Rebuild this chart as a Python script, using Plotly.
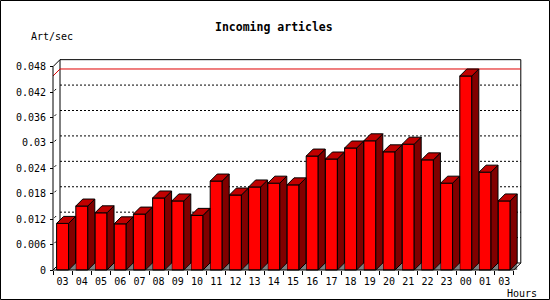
import plotly.graph_objects as go

# ---------------- data ----------------
hours = ["03", "04", "05", "06", "07", "08", "09", "10", "11", "12", "13", "14",
         "15", "16", "17", "18", "19", "20", "21", "22", "23", "00", "01", "03"]
art_per_sec = [0.0110, 0.0151, 0.0135, 0.0109, 0.0132, 0.0170, 0.0163, 0.0129,
               0.0210, 0.0177, 0.0196, 0.0205, 0.0201, 0.0269, 0.0262, 0.0288,
               0.0305, 0.0279, 0.0297, 0.0260, 0.0205, 0.0458, 0.0231, 0.0163]
y_tick_values = [0, 0.006, 0.012, 0.018, 0.024, 0.030, 0.036, 0.042, 0.048]
y_tick_labels = ["0", "0.006", "0.012", "0.018", "0.024", "0.03", "0.036", "0.042", "0.048"]
chart_title = "Incoming articles"
y_title = "Art/sec"
x_title = "Hours"

# ---------------- geometry ----------------
W, H = 550, 300
L, R, T, B = 51, 28, 58, 29
pw, ph = W - L - R, H - T - B
slot_px = 19.2          # pixels per category slot
first_center_px = 62.6  # pixel x of first slot centre
unit_px = 4236.0        # pixels per 1.0 of value
zero_py = 270           # pixel y of value 0 on the front plane
depth_px = 7
bar_px = 12

x_range = [(L - first_center_px) / slot_px, (W - R - first_center_px) / slot_px]
y_range = [-(H - B - zero_py) / unit_px, (zero_py - T) / unit_px]
dx = depth_px / slot_px
dy = depth_px / unit_px
bw = bar_px / slot_px
n = len(hours)
idx = list(range(n))
x_lo, x_hi = -0.5, n - 0.5
y_top = y_tick_values[-1]


def px_x(px):
    return (px - L) / pw


def px_y(py):
    return (H - B - py) / ph


FONT = "DejaVu Sans Mono"
RED, SIDE, TOP, GRAY = "#ff0000", "#800000", "#c00000", "#808080"

# ---------------- 3D faces ----------------
tri_x, tri_y, side_x, side_y, top_x, top_y = [], [], [], [], [], []
for i, v in zip(idx, art_per_sec):
    xl, xr = i - bw / 2, i + bw / 2
    tri_x += [xr, xr + dx, xr + dx, xr, None]
    tri_y += [0, dy, 0, 0, None]
    side_x += [xr, xr + dx, xr + dx, xr, xr, None]
    side_y += [0, dy, v + dy, v, 0, None]
    top_x += [xl, xl + dx, xr + dx, xr, xl, None]
    top_y += [v, v + dy, v + dy, v, v, None]

fig = go.Figure()
fig.add_trace(go.Bar(x=idx, y=art_per_sec, width=bw,
                     marker=dict(color=RED, line=dict(color="black", width=1)),
                     hoverinfo="skip"))
fig.add_trace(go.Scatter(x=tri_x, y=tri_y, mode="lines", fill="toself",
                         fillcolor=GRAY, line=dict(width=0, color=GRAY), hoverinfo="skip"))
fig.add_trace(go.Scatter(x=side_x, y=side_y, mode="lines", fill="toself",
                         fillcolor=SIDE, line=dict(width=1, color="black"), hoverinfo="skip"))
fig.add_trace(go.Scatter(x=top_x, y=top_y, mode="lines", fill="toself",
                         fillcolor=TOP, line=dict(width=1, color="black"), hoverinfo="skip"))

# ---------------- frame ----------------
shapes = []


def seg(x0, y0, x1, y1, color="black", dash="solid", layer="below"):
    shapes.append(dict(type="line", xref="x", yref="y", x0=x0, y0=y0, x1=x1, y1=y1,
                       line=dict(color=color, width=1, dash=dash), layer=layer))


# dotted grid on back plane
for v in y_tick_values[1:-1]:
    seg(x_lo + dx, v + dy, x_hi + dx, v + dy, dash="2px,2px")
    seg(x_lo + dx * 0.2, v + dy * 0.2, x_lo + dx * 0.45, v + dy * 0.45)
# back plane border
seg(x_lo + dx, dy, x_lo + dx, y_top + dy)
seg(x_lo + dx, y_top + dy, x_hi + dx, y_top + dy)
seg(x_hi + dx, dy, x_hi + dx, y_top + dy)
seg(x_lo + dx, dy, x_hi + dx, dy)
# max line (red)
vmax = max(art_per_sec)
seg(x_lo + dx, vmax + dy, x_hi + dx, vmax + dy, color="#e00000")
seg(x_lo, vmax, x_lo + dx, vmax + dy, color="#e00000")
# front axes and connectors
seg(x_lo, y_top, x_lo + dx, y_top + dy)
seg(x_lo, 0, x_lo + dx, dy)
seg(x_hi, 0, x_hi + dx, dy, layer="above")
seg(x_lo, 0, x_lo, y_top, layer="above")
seg(x_lo, 0, x_hi, 0, layer="above")

# outer border
shapes.append(dict(type="rect", xref="paper", yref="paper",
                   x0=px_x(0.5), x1=px_x(549.5), y0=px_y(299.5), y1=px_y(0.5),
                   line=dict(color="black", width=1), layer="above"))

annotations = [
    dict(text=chart_title, xref="paper", yref="paper", x=px_x(274), y=px_y(27),
         xanchor="center", yanchor="middle", showarrow=False,
         font=dict(family=FONT, size=11.5, color="black", weight="bold")),
    dict(text=y_title, xref="paper", yref="paper", x=px_x(29), y=px_y(37),
         xanchor="left", yanchor="middle", showarrow=False,
         font=dict(family=FONT, size=10, color="black")),
    dict(text=x_title, xref="paper", yref="paper", x=px_x(505), y=px_y(293),
         xanchor="left", yanchor="middle", showarrow=False,
         font=dict(family=FONT, size=10, color="black")),
]

fig.update_layout(
    width=W, height=H,
    margin=dict(l=L, r=R, t=T, b=B, pad=0),
    paper_bgcolor="white", plot_bgcolor="white",
    showlegend=False,
    shapes=shapes, annotations=annotations,
    font=dict(family=FONT, size=10, color="black"),
    xaxis=dict(range=x_range, anchor="free", position=px_y(zero_py),
               tickmode="array", tickvals=idx, ticktext=hours, ticks="",
               ticklabelstandoff=4,
               showgrid=False, zeroline=False, showline=False,
               tickfont=dict(family=FONT, size=10, color="black"),
               minor=dict(tickmode="array", tickvals=[i - 0.5 for i in range(n + 1)],
                          ticks="outside", ticklen=4, tickcolor="black", tickwidth=1,
                          showgrid=False),
               fixedrange=True),
    yaxis=dict(range=y_range, anchor="free", position=px_x(first_center_px - slot_px / 2),
               tickmode="array", tickvals=y_tick_values, ticktext=y_tick_labels,
               ticks="outside", ticklen=3, tickcolor="black", tickwidth=1,
               ticklabelstandoff=2,
               showgrid=False, zeroline=False, showline=False,
               tickfont=dict(family=FONT, size=10, color="black"),
               fixedrange=True),
)

fig.write_html("out.html")
